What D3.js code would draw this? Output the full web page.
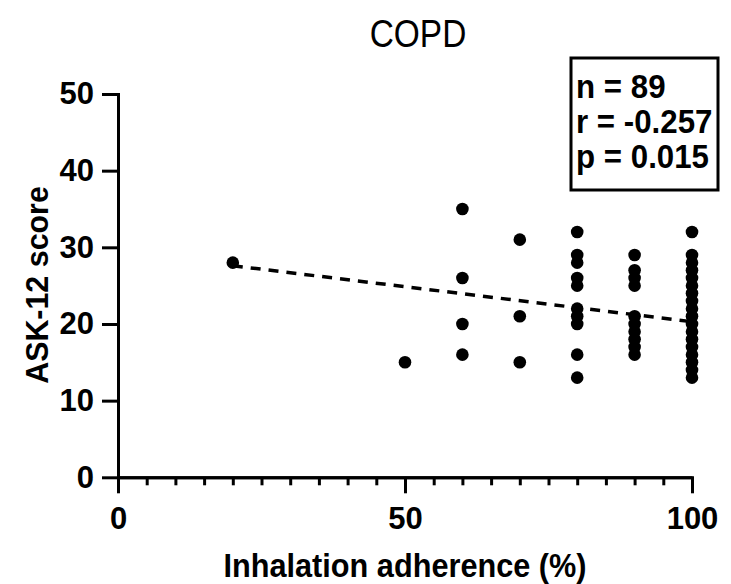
<!DOCTYPE html>
<html><head><meta charset="utf-8">
<script src="https://cdn.jsdelivr.net/npm/d3@7"></script>
<style>
body{margin:0;background:#fff;}
text{font-family:Arial,"Liberation Sans",Helvetica,sans-serif;fill:#000;}
</style></head>
<body><svg id="c" width="731" height="584"></svg>
<script>
// Data
const adherence = [20, 50, 60,60,60,60, 70,70,70,
  80,80,80,80,80,80,80,80,80,80,
  90,90,90,90,90,90,90,90,90,90,
  100,100,100,100,100,100,100,100,100,100,100,100,100,100,100,100,100,100];
const askScore = [28, 15, 35,26,20,16, 31,21,15,
  32,29,28,26,25,22,21,20,16,13,
  29,27,26,25,21,20,19,18,17,16,
  32,29,28,27,26,25,24,23,22,21,20,19,18,17,16,15,14,13];
const fitX = [20, 100];
const fitY = [27.6, 20.3];
const yTicks = [0,10,20,30,40,50];
const xMajorTicks = [0,50,100];
const xMinorTicks = d3.range(0,101,5);
const title = "COPD";
const statsLines = ["n = 89", "r = -0.257", "p = 0.015"];
const xTitle = "Inhalation adherence (%)";
const yTitle = "ASK-12 score";

const svg = d3.select("#c");
const x = d3.scaleLinear().domain([0,100]).range([118,692]);
const y = d3.scaleLinear().domain([0,50]).range([477.3,94]);

// axes
const gy = svg.append("g").attr("transform","translate(118,0)")
  .call(d3.axisLeft(y).tickValues(yTicks).tickSize(16).tickSizeOuter(0).tickPadding(8));
const gxMinor = svg.append("g").attr("transform","translate(0,477.3)")
  .call(d3.axisBottom(x).tickValues(xMinorTicks).tickSize(8).tickSizeOuter(0).tickFormat(""));
const gx = svg.append("g").attr("transform","translate(0,477.3)")
  .call(d3.axisBottom(x).tickValues(xMajorTicks).tickSize(16).tickSizeOuter(0).tickPadding(14));
[gy,gx,gxMinor].forEach(g=>{
  g.selectAll("path,line").attr("stroke","#000").attr("stroke-width",3);
  g.selectAll("text").style("font-size","31px").style("font-weight","bold");
});
gxMinor.select("path").attr("stroke-linecap","square");
gy.select("path").attr("stroke-linecap","square");

// fit line
svg.append("path")
  .attr("d", d3.line().x(d=>x(d[0])).y(d=>y(d[1]))(fitX.map((v,i)=>[v,fitY[i]])))
  .attr("fill","none").attr("stroke","#000").attr("stroke-width",3.5)
  .attr("stroke-dasharray","10,8");

// points
svg.append("g").selectAll("circle").data(adherence.map((v,i)=>[v,askScore[i]]))
  .join("circle").attr("cx",d=>x(d[0])).attr("cy",d=>y(d[1])).attr("r",6.3).attr("fill","#000");

function label(tx, ty, sx, txt, size, bold, anchor, rot){
  const t = svg.append("text")
    .attr("transform", `translate(${tx},${ty})` + (rot ? ` rotate(${rot})` : "") + ` scale(${sx},1)`)
    .attr("text-anchor", anchor || "start")
    .style("font-size", size + "px").style("font-weight", bold ? "bold" : "normal").text(txt);
  return t;
}

// title
label(418, 47, 0.88, title, 38, false, "middle");

// stats box
svg.append("rect").attr("x",571).attr("y",58).attr("width",147).attr("height",132)
  .attr("fill","#fff").attr("stroke","#000").attr("stroke-width",3);
statsLines.forEach((s,i)=>{ label(576, 98 + i*35, 0.92, s, 34, true); });

// axis titles
label(405, 577, 0.93, xTitle, 33, true, "middle");
label(48, 285, 0.95, yTitle, 32, true, "middle", -90);
</script></body></html>
